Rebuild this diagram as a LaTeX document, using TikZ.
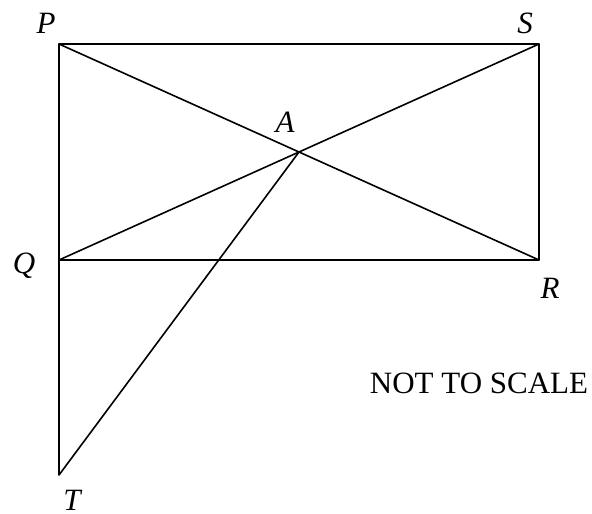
\documentclass[tikz,border=0pt]{standalone}
\usepackage{fontspec}
\setmainfont{Liberation Serif}
\begin{document}
\begin{tikzpicture}[x=1pt,y=-1pt,
  edge/.style={line width=1.6pt,line cap=round,line join=round},
  lbl/.style={font=\fontsize{31}{34}\selectfont\itshape,inner sep=0pt,anchor=base},
  note/.style={font=\fontsize{31}{34}\selectfont,inner sep=0pt,anchor=base}]
\useasboundingbox (0,0) rectangle (592,514);
\coordinate (P) at (59,44);
\coordinate (S) at (539,44);
\coordinate (Q) at (59,260);
\coordinate (R) at (539,260);
\coordinate (A) at (299,152);
\coordinate (T) at (59,475);
\draw[edge] (P) -- (S) -- (R) -- (Q) -- cycle;
\draw[edge] (P) -- (R);
\draw[edge] (Q) -- (S);
\draw[edge] (Q) -- (T) -- (A);
\node[lbl] (lP) at (46,34) {P};
\node[lbl] (lS) at (525,33) {S};
\node[lbl] (lA) at (285,132) {A};
\node[lbl] (lQ) at (24,273) {Q};
\node[lbl] (lR) at (550,298) {R};
\node[lbl] (lT) at (72,510) {T};
\node[note] (nts) at (479,393) {NOT TO SCALE};
\end{tikzpicture}
\end{document}
